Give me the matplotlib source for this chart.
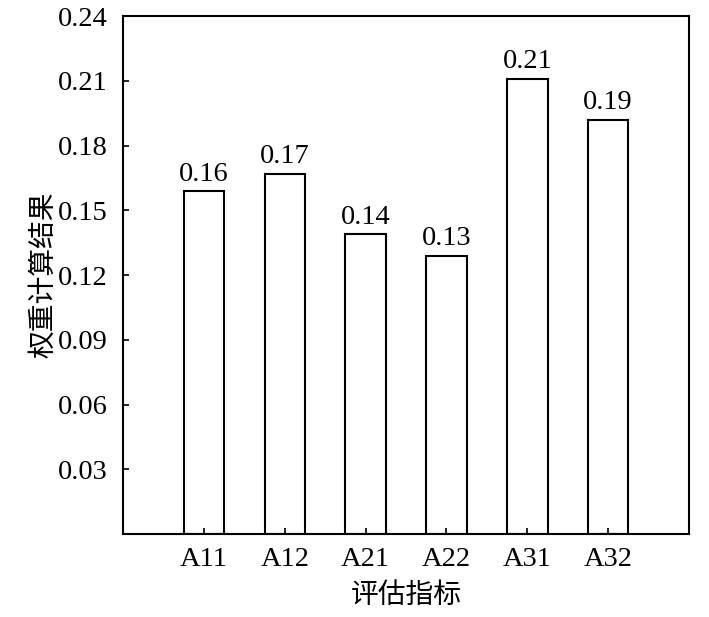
import matplotlib
matplotlib.use("Agg")
import matplotlib.pyplot as plt

categories = ["A11", "A12", "A21", "A22", "A31", "A32"]
values = [0.159, 0.167, 0.139, 0.129, 0.211, 0.192]
labels = ["0.16", "0.17", "0.14", "0.13", "0.21", "0.19"]
yticks = [0.03, 0.06, 0.09, 0.12, 0.15, 0.18, 0.21, 0.24]

plt.rcParams['font.family'] = ['Liberation Serif', 'Noto Sans CJK SC']
cjk = ['Noto Sans CJK SC']

fig = plt.figure(figsize=(7.09, 6.17), dpi=100)
ax = fig.add_axes([0.1735, 0.1345, 0.7983, 0.8395])

x = list(range(len(categories)))
bars = ax.bar(x, values, width=0.5, facecolor='white', edgecolor='black', linewidth=1.5)
for xi, v, lab in zip(x, values, labels):
    ax.text(xi, v + 0.002, lab, ha='center', va='bottom', fontsize=20.5)

ax.set_xlim(-1, 6)
ax.set_ylim(0, 0.24)
ax.set_yticks(yticks)
ax.set_yticklabels([f"{t:.2f}" for t in yticks])
ax.set_xticks(x)
ax.set_xticklabels(categories)
ax.tick_params(direction='in', length=4, width=1.2, labelsize=20.5)
ax.tick_params(axis='x', pad=9)
ax.tick_params(axis='y', pad=11)
for s in ax.spines.values():
    s.set_linewidth(1.5)

ax.set_xlabel("评估指标", fontsize=20, family=cjk, fontweight='light', labelpad=6)
ax.set_ylabel("权重计算结果", fontsize=20, family=cjk, fontweight='light', labelpad=0)

fig.savefig("out.png", dpi=100)
